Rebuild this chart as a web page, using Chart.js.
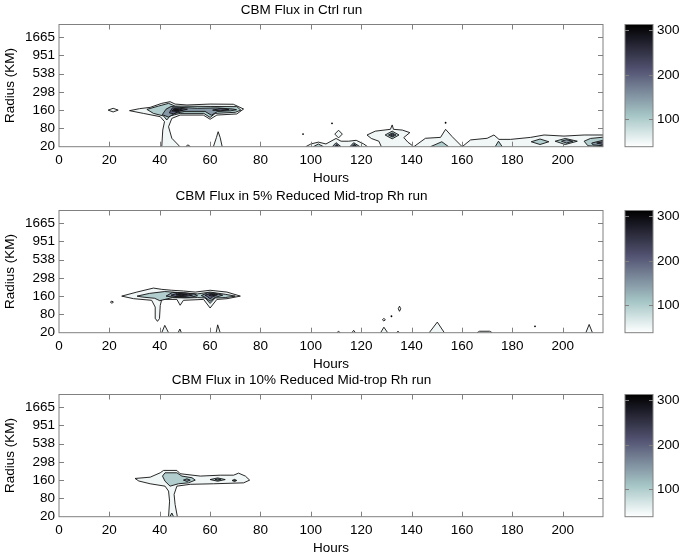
<!DOCTYPE html>
<html>
<head>
<meta charset="utf-8">
<script src="https://cdn.jsdelivr.net/npm/chart.js@4.4.1/dist/chart.umd.min.js"></script>
<style>
  body { margin: 0; background: #fff; overflow: hidden; }
  #wrap { position: relative; width: 685px; height: 558px; }
  canvas { position: absolute; }
</style>
</head>
<body>
<div id="wrap">
  <canvas id="p0" width="615" height="190" style="left:0;top:0"></canvas>
  <canvas id="c0" width="70" height="190" style="left:615px;top:0"></canvas>
  <canvas id="p1" width="615" height="190" style="left:0;top:186px"></canvas>
  <canvas id="c1" width="70" height="190" style="left:615px;top:186px"></canvas>
  <canvas id="p2" width="615" height="190" style="left:0;top:370px"></canvas>
  <canvas id="c2" width="70" height="190" style="left:615px;top:370px"></canvas>
</div>
<script>
// axis labels / ticks
const HOUR_TICKS = [0, 20, 40, 60, 80, 100, 120, 140, 160, 180, 200];
const RADIUS_LABELS = ["20", "80", "160", "298", "538", "951", "1665"];
const CBAR_TICKS = [100, 200, 300];
const CBAR_MIN = 39, CBAR_MAX = 313;
// contour levels (flux)
const LEVELS = [50, 100, 150, 200, 250, 300];

const TITLES = [
  "CBM Flux in Ctrl run",
  "CBM Flux in 5% Reduced Mid-trop Rh run",
  "CBM Flux in 10% Reduced Mid-trop Rh run"
];

// contour outlines: [level, [[hour, radius index], ...]]
const ctrlRun = [
  [1, [[28,1.97],[32,2.08],[36.2,2.15],[40.8,2.37],[44.1,2.46],[46.1,2.33],[50.8,2.28],[60,2.33],[69.2,2.32],[73.3,2.06],[70.6,1.79],[62.7,1.73],[60,1.5],[57.3,1.73],[48.1,1.73],[44.8,1.55],[43.5,1.09],[44.8,0.46],[47.4,0.09],[48,0],[40.8,0],[41.2,0.91],[41.9,1.37],[40.2,1.64],[33.5,1.82]]],
  [1, [[19.5,2],[21.5,2.1],[23.5,2],[21.5,1.9]]],
  [1, [[61.3,0],[62.5,0.5],[63.2,0.82],[64,0.5],[64.8,0]]],
  [1, [[50.3,0],[51.2,0.1],[52.2,0]]],
  [1, [[98,0],[100,0.15],[103,0.25],[106,0.15],[108,0.3],[110,0.45],[112,0.3],[115,0.3],[118,0.35],[121,0.15],[122.5,0]]],
  [1, [[109.5,0.69],[111,0.9],[112.5,0.69],[111,0.48]]],
  [1, [[122.3,0.64],[125.6,0.85],[131.6,0.95],[132.3,1.19],[132.8,0.95],[136.3,0.91],[139.3,0.77],[136.9,0.5],[138.5,0.25],[140.9,0],[128,0],[127,0.3],[124,0.45]]],
  [1, [[140.9,0],[145.5,0.46],[151.5,0.51],[153.5,0.95],[156.1,0.55],[160.1,0],[163.4,0.37],[170,0.46],[172.7,0.64],[174.7,0.4],[179.3,0.4],[187.3,0.51],[192.6,0.64],[200.5,0.58],[208.5,0.64],[216,0.64],[216,0]]],
  [2, [[34.9,2.04],[39.5,2.22],[43.5,2.37],[46.1,2.22],[60,2.2],[70.6,2.19],[72.2,2],[70,1.88],[62,1.82],[60,1.6],[57.5,1.82],[48.1,1.82],[44.1,1.68],[42.8,1.46],[41.5,1.68],[37.5,1.82]]],
  [2, [[101,0],[103,0.15],[105,0]]],
  [2, [[129.5,0.64],[132.3,0.85],[135,0.64],[132.3,0.43]]],
  [2, [[147.5,0],[152,0.27],[154.7,0]]],
  [2, [[173.2,0],[174.5,0.3],[176,0]]],
  [2, [[187.5,0.27],[191,0.42],[194.5,0.27],[191,0.12]]],
  [2, [[197,0.3],[201,0.45],[205.8,0.3],[201,0.12]]],
  [2, [[208.5,0.3],[211,0.45],[216,0.52],[216,0],[210,0.05]]],
  [3, [[41,1.75],[42.5,2.05],[44.5,2.2],[48,2.15],[55,2.1],[63,2.12],[69,2.06],[70.5,2.02],[68,1.96],[63,1.93],[60.5,1.72],[58,1.93],[50,1.93],[46,1.82],[43.5,1.62]]],
  [3, [[108.5,0],[110,0.22],[112,0]]],
  [3, [[115.5,0],[117,0.22],[119.5,0]]],
  [3, [[130.8,0.64],[132.3,0.75],[133.8,0.64],[132.3,0.53]]],
  [3, [[199.5,0.3],[201.5,0.38],[204,0.3],[201.5,0.2]]],
  [3, [[211.5,0.2],[216,0.35],[216,0.05],[212,0.1]]],
  [4, [[43.8,1.85],[45,2.12],[48,2.1],[51,2.05],[48,1.95],[45.5,1.8]]],
  [4, [[61,2],[64,2.08],[67.5,2.02],[64,1.96]]],
  [4, [[131.6,0.64],[132.3,0.7],[133,0.64],[132.3,0.58]]],
  [4, [[213.5,0.2],[216,0.27],[216,0.12]]],
  [5, [[44.8,1.95],[45.8,2.08],[48,2.04],[49,2],[47,1.93]]],
  [5, [[109.5,0],[110.3,0.12],[111,0]]],
  [5, [[116.3,0],[117.2,0.13],[118.3,0]]],
  [6, [[45.6,2],[46.5,2.04],[47.5,2],[46.5,1.96]]]
];
const ctrlDots = [[96.9,0.69],[108.4,1.28],[153.5,1.31]];

const rh5Run = [
  [1, [[24.9,2],[30.9,2.22],[37.5,2.44],[40.8,2.37],[44.8,2.32],[49.4,2.28],[54.1,2.22],[60,2.32],[66.7,2.22],[72,2],[66.7,1.86],[62.7,1.82],[60,1.35],[57.4,1.82],[49.4,1.77],[48.1,1.5],[46.8,1.82],[40.8,1.82],[40.2,1.49],[39.9,0.77],[39.1,0.62],[38.3,0.77],[38.2,1.4],[36.8,1.77],[29.6,1.86]]],
  [1, [[20.4,1.67],[21,1.73],[21.6,1.67],[21,1.61]]],
  [1, [[40.8,0],[42,0.4],[43.5,0]]],
  [1, [[47.3,0],[48,0.2],[48.6,0]]],
  [1, [[62.4,0],[63,0.43],[64,0]]],
  [1, [[110.3,0],[111,0.07],[111.7,0]]],
  [1, [[116.3,0],[117,0.13],[117.7,0]]],
  [1, [[127.7,0],[129,0.3],[130.5,0]]],
  [1, [[134,0],[134.6,0.08],[135.2,0]]],
  [1, [[147,0],[150.2,0.58],[153,0]]],
  [1, [[166,0],[167,0.08],[171,0.08],[172,0]]],
  [1, [[209.2,0],[210.5,0.45],[211.8,0]]],
  [1, [[128.4,0.71],[129,0.78],[129.6,0.71],[129,0.64]]],
  [1, [[134.7,1.31],[135.2,1.45],[135.7,1.31],[135.2,1.17]]],
  [2, [[31,2],[36,2.15],[42,2.25],[47,2.2],[55,2.12],[60,2.22],[66,2.1],[70,2],[66,1.92],[62,1.9],[60,1.6],[58,1.9],[55,1.92],[50,1.9],[45,1.92],[40,1.75],[38,1.88],[33,1.95]]],
  [3, [[42.5,2],[45,2.2],[50,2.18],[54,2.1],[55,2.02],[52,1.93],[46,1.93]]],
  [3, [[56.5,2.03],[59,2.18],[62,2.15],[65,2.05],[62,1.93],[60,1.72],[58,1.93]]],
  [4, [[44.5,2.05],[47,2.15],[51,2.12],[53,2.05],[50,1.98],[46,1.98]]],
  [4, [[58,2.05],[60,2.14],[63,2.08],[61,1.95],[60,1.85],[59,1.97]]],
  [5, [[46.5,2.07],[48.5,2.1],[51,2.07],[48.5,2.02]]],
  [5, [[59.5,2.05],[60.5,2.1],[62,2.06],[60.5,2]]]
];
const rh5Dots = [[132,0.9],[189,0.35]];

const rh10Run = [
  [1, [[30.2,2.09],[36.2,2.16],[40.2,2.4],[41.5,2.53],[46.8,2.53],[48.1,2.35],[56.1,2.22],[64,2.27],[69.3,2.27],[71.3,2.38],[74,2.22],[75.7,2],[73.3,1.85],[61.4,1.8],[52.1,1.77],[46.8,1.67],[45.7,1.22],[46.1,0.67],[47,0],[43.5,0],[43.9,0.85],[43.5,1.4],[42.1,1.67],[36.2,1.8],[31.7,1.95]]],
  [2, [[41.1,2.22],[42.1,2.4],[46.8,2.4],[48.8,2.22],[52.8,2.13],[54.1,2],[51.4,1.85],[47.4,1.8],[44.1,1.67],[42.1,1.94]]],
  [2, [[60,2.03],[63,2.12],[66,2.03],[63,1.94]]],
  [2, [[68.7,1.98],[69.7,2.04],[70.6,1.98],[69.7,1.92]]],
  [2, [[44,0],[44.8,0.2],[45.5,0]]],
  [3, [[49.4,2],[50.8,2.07],[52.1,2],[50.8,1.93]]],
  [3, [[62,2.03],[63,2.07],[64.2,2.03],[63,1.99]]],
  [3, [[69.3,1.98],[69.7,2],[70.1,1.98],[69.7,1.96]]]
];
const rh10Dots = [];

const X_MAX = 216, Y_MAX = 6.68;
const FONT = { family: "'Liberation Sans', Arial, sans-serif", size: 13.5 };

// flipped "bone" colour map, t = 0 (low, white) .. 1 (high, black)
function boneRev(t) {
  const s = 1 - Math.min(1, Math.max(0, t));
  const cl = v => Math.min(1, Math.max(0, v));
  const hr = cl(s / 0.375), hg = cl((s - 0.375) / 0.375), hb = cl((s - 0.75) / 0.25);
  const r = (7 * s + hb) / 8, g = (7 * s + hg) / 8, b = (7 * s + hr) / 8;
  return `rgb(${Math.round(r * 255)},${Math.round(g * 255)},${Math.round(b * 255)})`;
}
function levelColor(lvl) {
  return boneRev((LEVELS[lvl - 1] - CBAR_MIN) / (CBAR_MAX - CBAR_MIN));
}

// frame + inward ticks, matlab style
const frameTicks = {
  id: "frameTicks",
  afterDraw(chart, args, opts) {
    const { ctx, chartArea: a } = chart;
    const len = opts.len || 5;
    ctx.save();
    ctx.strokeStyle = "#808080";
    ctx.lineWidth = 1;
    ctx.strokeRect(a.left, a.top, a.right - a.left, a.bottom - a.top);
    ctx.beginPath();
    const x = chart.scales.x;
    if (x && x.options.display !== false) {
      x.ticks.forEach(t => {
        const px = Math.round(x.getPixelForValue(t.value)) + 0.5;
        if (px <= a.left + 1 || px >= a.right - 1) return;
        ctx.moveTo(px, a.bottom); ctx.lineTo(px, a.bottom - len);
        ctx.moveTo(px, a.top); ctx.lineTo(px, a.top + len);
      });
    }
    const y = chart.scales.y;
    y.ticks.forEach(t => {
      const py = Math.round(y.getPixelForValue(t.value)) + 0.5;
      if (py <= a.top + 1 || py >= a.bottom - 1) return;
      ctx.moveTo(a.left, py); ctx.lineTo(a.left + len, py);
      ctx.moveTo(a.right, py); ctx.lineTo(a.right - len, py);
    });
    ctx.stroke();
    ctx.restore();
  }
};

// contour line path, broken (null) where it runs along the plot border
function outline(pts) {
  const ring = pts.concat([pts[0]]);
  const out = [];
  ring.forEach((p, i) => {
    if (i > 0) {
      const q = ring[i - 1];
      if ((q[1] === 0 && p[1] === 0) || (q[0] >= X_MAX && p[0] >= X_MAX)) out.push({ x: (q[0] + p[0]) / 2, y: null });
    }
    out.push({ x: p[0], y: p[1] });
  });
  return out;
}

function makePanel(id, title, shapes, dots) {
  const datasets = [];
  shapes.forEach(([lvl, pts]) => {
    datasets.push({
      data: pts.concat([pts[0]]).map(p => ({ x: p[0], y: p[1] })),
      borderWidth: 0,
      borderColor: "rgba(0,0,0,0)",
      backgroundColor: levelColor(lvl),
      fill: "shape",
      pointRadius: 0,
      tension: 0,
      order: 21 - 2 * lvl
    });
    datasets.push({
      data: outline(pts),
      borderColor: "#111",
      borderWidth: 0.9,
      fill: false,
      spanGaps: false,
      pointRadius: 0,
      tension: 0,
      order: 20 - 2 * lvl
    });
  });
  datasets.push({
    data: dots.map(p => ({ x: p[0], y: p[1] })),
    showLine: false,
    pointRadius: 0.9,
    pointBorderWidth: 0,
    pointBackgroundColor: "#000",
    order: 0
  });

  new Chart(document.getElementById(id), {
    type: "line",
    data: { datasets },
    options: {
      responsive: false,
      animation: false,
      events: [],
      layout: { padding: { left: 0, right: 12, top: 0, bottom: 3.3 } },
      plugins: {
        legend: { display: false },
        tooltip: { enabled: false },
        title: {
          display: true, text: title, color: "#000",
          font: { ...FONT, weight: "normal" },
          padding: { top: 2, bottom: 6.3 }
        },
        frameTicks: { len: 5 }
      },
      scales: {
        x: {
          type: "linear", min: 0, max: X_MAX,
          afterBuildTicks: s => { s.ticks = HOUR_TICKS.map(v => ({ value: v })); },
          afterFit: s => { s.height = 40; },
          grid: { display: false, drawTicks: false },
          border: { display: false },
          ticks: { color: "#000", font: FONT, padding: 5, maxRotation: 0, autoSkip: false },
          title: { display: true, text: "Hours", color: "#000", font: FONT, padding: 0 }
        },
        y: {
          type: "linear", min: 0, max: Y_MAX,
          afterBuildTicks: s => { s.ticks = RADIUS_LABELS.map((_, i) => ({ value: i })); },
          afterFit: s => { s.width = 59; },
          grid: { display: false, drawTicks: false },
          border: { display: false },
          ticks: { color: "#000", font: FONT, padding: 4, callback: v => RADIUS_LABELS[v] },
          title: { display: true, text: "Radius (KM)", color: "#000", font: FONT, padding: { top: 2, bottom: 0 } }
        }
      }
    },
    plugins: [frameTicks]
  });
}

function makeColorbar(id) {
  new Chart(document.getElementById(id), {
    type: "bar",
    data: {
      labels: [""],
      datasets: [{
        data: [[CBAR_MIN, CBAR_MAX]],
        borderWidth: 0,
        barPercentage: 1,
        categoryPercentage: 1,
        backgroundColor: c => {
          const a = c.chart.chartArea;
          if (!a) return "#fff";
          const g = c.chart.ctx.createLinearGradient(0, a.bottom, 0, a.top);
          for (let i = 0; i <= 20; i++) g.addColorStop(i / 20, boneRev(i / 20));
          return g;
        }
      }]
    },
    options: {
      responsive: false,
      animation: false,
      events: [],
      layout: { padding: { left: 10, right: 0, top: 24.5, bottom: 43.3 } },
      plugins: { legend: { display: false }, tooltip: { enabled: false }, frameTicks: { len: 4 } },
      scales: {
        x: { display: false },
        y: {
          position: "right", min: CBAR_MIN, max: CBAR_MAX,
          afterBuildTicks: s => { s.ticks = CBAR_TICKS.map(v => ({ value: v })); },
          afterFit: s => { s.width = 32; },
          grid: { display: false, drawTicks: false },
          border: { display: false },
          ticks: { color: "#000", font: FONT, padding: 4 }
        }
      }
    },
    plugins: [frameTicks]
  });
}

makePanel("p0", TITLES[0], ctrlRun, ctrlDots);
makePanel("p1", TITLES[1], rh5Run, rh5Dots);
makePanel("p2", TITLES[2], rh10Run, rh10Dots);
makeColorbar("c0");
makeColorbar("c1");
makeColorbar("c2");
</script>
</body>
</html>
